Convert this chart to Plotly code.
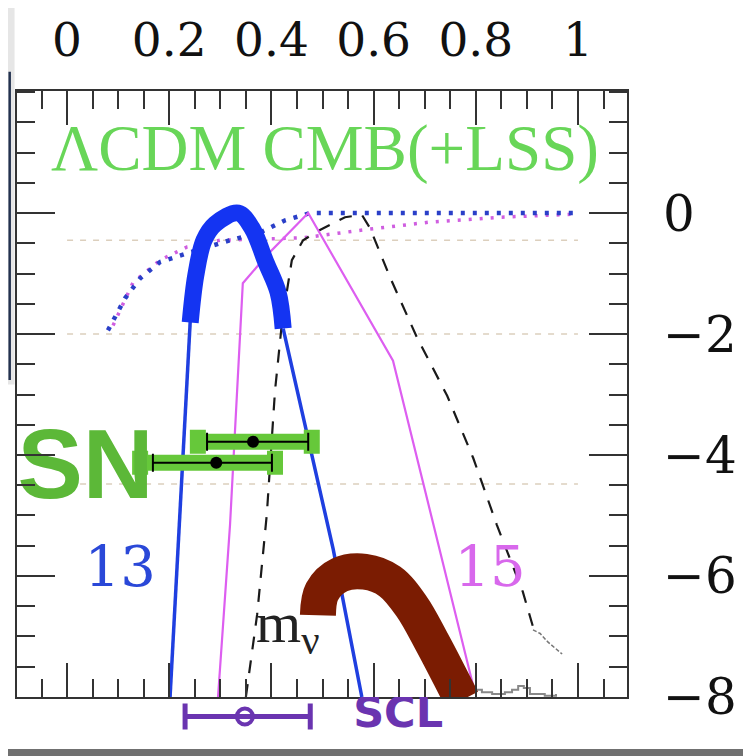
import plotly.graph_objects as go

# ---------------- data ----------------
# x in top-axis units, y in right-axis units
blue_thin_left_x = [0.2016, 0.241]
blue_thin_left_y = [-8.0, -1.80]
blue_thick_x = [0.241, 0.252, 0.268, 0.290, 0.335, 0.362, 0.389, 0.413, 0.423]
blue_thick_y = [-1.81, -1.03, -0.45, -0.18, 0.0, -0.25, -0.81, -1.31, -1.91]
blue_thin_right_x = [0.423, 0.521, 0.577]
blue_thin_right_y = [-1.91, -5.56, -8.0]

blue_dot_x = [0.080, 0.1135, 0.143, 0.182, 0.241, 0.319, 0.378, 0.427, 0.476, 0.994]
blue_dot_y = [-1.94, -1.41, -1.08, -0.81, -0.65, -0.45, -0.32, -0.12, 0.0, 0.0]

mag_dot_x = [0.090, 0.129, 0.182, 0.235, 0.299, 0.462, 0.579, 0.710, 0.847, 0.990]
mag_dot_y = [-1.86, -1.15, -0.78, -0.56, -0.45, -0.41, -0.28, -0.15, -0.07, -0.02]

mag_x = [0.2955, 0.319, 0.344, 0.391, 0.472, 0.638, 0.798]
mag_y = [-8.0, -5.15, -1.16, -0.70, 0.0, -2.44, -7.92]

black_dash_x = [0.350, 0.372, 0.391, 0.407, 0.421, 0.440, 0.462, 0.495, 0.544,
                0.577, 0.593, 0.632, 0.685, 0.744, 0.795, 0.841, 0.892, 0.912]
black_dash_y = [-8.0, -6.64, -4.98, -2.94, -1.78, -0.78, -0.45, -0.28, -0.07,
                -0.03, -0.25, -1.06, -2.06, -3.02, -4.05, -5.15, -6.26, -6.84]
gray_tail_x = [0.912, 0.926, 0.941, 0.969]
gray_tail_y = [-6.89, -6.95, -7.09, -7.29]

gray_noise_x = [0.800, 0.812, 0.832, 0.857, 0.871, 0.883, 0.894, 0.906, 0.935, 0.957]
gray_noise_y = [-7.88, -7.92, -7.95, -7.92, -7.88, -7.82, -7.85, -7.95, -7.98, -7.95]

ref_levels = [-0.45, -2.0, -4.48]
ref_x = [0.0, 1.0]

brown_x = [0.491, 0.499, 0.534, 0.583, 0.632, 0.675, 0.714, 0.750, 0.773]
brown_y = [-6.65, -6.26, -5.98, -5.93, -6.09, -6.51, -7.09, -7.67, -8.05]

sn_x = [0.364, 0.292]
sn_y = [-3.78, -4.13]
sn_err_plus = [0.108, 0.109]
sn_err_minus = [0.090, 0.124]
sn_green_plus = [0.115, 0.115]
sn_green_minus = [0.108, 0.149]

scl_x = [0.348]
scl_y = [0.5]
scl_plus = [0.128]
scl_minus = [0.117]

x_ticks = [0, 0.2, 0.4, 0.6, 0.8, 1]
x_ticktext = ["0", "0.2", "0.4", "0.6", "0.8", "1"]
y_ticks = [-8, -6, -4, -2, 0]

SERIF = "Liberation Serif"
WSERIF = "DejaVu Serif"

fig = go.Figure()

# faint reference lines
for lv in ref_levels:
    fig.add_trace(go.Scatter(x=ref_x, y=[lv, lv], mode="lines",
                             line=dict(color="#dccfbd", width=1.5, dash="6px,7px"),
                             hoverinfo="skip"))

fig.add_trace(go.Scatter(x=mag_dot_x, y=mag_dot_y, mode="lines",
                         line=dict(color="#cf5ee0", width=3.5, dash="3px,8px")))
fig.add_trace(go.Scatter(x=blue_dot_x, y=blue_dot_y, mode="lines",
                         line=dict(color="#2a3fc8", width=4.5, dash="4px,8px")))
fig.add_trace(go.Scatter(x=black_dash_x, y=black_dash_y, mode="lines",
                         line=dict(color="#1a1a1a", width=2.2, dash="13px,11px")))
fig.add_trace(go.Scatter(x=gray_tail_x, y=gray_tail_y, mode="lines",
                         line=dict(color="#777777", width=1.5, dash="4px,2px")))
fig.add_trace(go.Scatter(x=gray_noise_x, y=gray_noise_y, mode="lines",
                         line=dict(color="#888888", width=2, shape="hv")))
fig.add_trace(go.Scatter(x=mag_x, y=mag_y, mode="lines",
                         line=dict(color="#dd5ef0", width=2.2)))
fig.add_trace(go.Scatter(x=blue_thin_left_x, y=blue_thin_left_y, mode="lines",
                         line=dict(color="#1f3fe0", width=3.5)))
fig.add_trace(go.Scatter(x=blue_thin_right_x, y=blue_thin_right_y, mode="lines",
                         line=dict(color="#1f3fe0", width=3.5)))
fig.add_trace(go.Scatter(x=blue_thick_x, y=blue_thick_y, mode="lines",
                         line=dict(color="#1434f2", width=17, shape="spline")))

# labels inside plot (as text traces so the brown arc can cover them)
fig.add_trace(go.Scatter(x=[0.104], y=[-5.93], mode="text", text=["13"],
                         textfont=dict(family=WSERIF, size=56, color="#2a48d8")))
fig.add_trace(go.Scatter(x=[0.828], y=[-5.93], mode="text", text=["15"],
                         textfont=dict(family=WSERIF, size=56, color="#d868ec")))
fig.add_trace(go.Scatter(x=[0.432], y=[-6.85], mode="text", text=["m<sub>ν</sub>"],
                         textfont=dict(family=SERIF, size=58, color="#222222")))

# SN
fig.add_trace(go.Scatter(x=sn_x, y=sn_y, mode="lines",
                         line=dict(width=0, color="rgba(0,0,0,0)"),
                         error_x=dict(type="data", array=sn_green_plus, arrayminus=sn_green_minus,
                                      color="#66c83a", thickness=16, width=12)))
fig.add_trace(go.Scatter(x=sn_x, y=sn_y, mode="markers",
                         marker=dict(color="black", size=12),
                         error_x=dict(type="data", array=sn_err_plus, arrayminus=sn_err_minus,
                                      color="black", thickness=2, width=9)))
fig.add_trace(go.Scatter(x=[0.036], y=[-4.3], mode="text", text=["<b>SN</b>"],
                         textfont=dict(family="Liberation Sans", size=98, color="#5cb838")))

# brown arc
fig.add_trace(go.Scatter(x=brown_x, y=brown_y, mode="lines",
                         line=dict(color="#7b1c02", width=36, shape="spline")))

# SCL panel below the axis
fig.add_trace(go.Scatter(x=scl_x, y=scl_y, mode="markers", xaxis="x2", yaxis="y2",
                         marker=dict(symbol="circle-open", size=16, color="#6a34b0",
                                     line=dict(width=4, color="#6a34b0")),
                         error_x=dict(type="data", array=scl_plus, arrayminus=scl_minus,
                                      color="#6a34b0", thickness=5, width=13)))
fig.add_trace(go.Scatter(x=[0.648], y=[0.5], mode="text", text=["<b>SCL</b>"],
                         xaxis="x2", yaxis="y2",
                         textfont=dict(family="DejaVu Sans", size=43, color="#6a34b0")))

fig.add_annotation(x=0.505, y=1.08, xref="x", yref="y", text="ΛCDM CMB(+LSS)",
                   showarrow=False,
                   font=dict(family=SERIF, size=65, color="#68d658"))

# screenshot edge artefacts
fig.add_shape(type="rect", xref="paper", yref="paper", x0=-0.0148, x1=-0.004, y0=0.545, y1=1.13,
              fillcolor="#e6e6e6", line=dict(width=0), layer="below")
fig.add_shape(type="line", xref="paper", yref="paper", x0=-0.012, x1=-0.012, y0=0.552, y1=1.03,
              line=dict(color="#23324f", width=2.5))
fig.add_shape(type="rect", xref="paper", yref="paper", x0=-0.02, x1=1.21, y0=-0.031, y1=-0.02,
              fillcolor="#707070", line=dict(width=0))

XR = [-0.098, 1.096]
fig.update_layout(
    width=743, height=748,
    margin=dict(l=9, r=124, t=83, b=20),
    paper_bgcolor="white", plot_bgcolor="white",
    showlegend=False,
    xaxis=dict(range=XR, side="top", anchor="y", automargin=False,
               tickvals=x_ticks, ticktext=x_ticktext,
               ticks="inside", ticklen=34, tickwidth=1.5, tickcolor="#333",
               showline=True, linecolor="#333", linewidth=2, mirror="allticks",
               showgrid=False, zeroline=False, ticklabelstandoff=14,
               tickfont=dict(family=WSERIF, size=47, color="#111"),
               minor=dict(ticks="inside", ticklen=18, tickwidth=1.5, tickcolor="#333",
                          dtick=0.05, tick0=0, showgrid=False)),
    yaxis=dict(range=[-8.0, 2.017], domain=[0.0605, 1], side="right", anchor="x",
               automargin=False, tickvals=y_ticks,
               ticks="inside", ticklen=38, tickwidth=1.5, tickcolor="#333",
               showline=True, linecolor="#333", linewidth=2, mirror="allticks",
               showgrid=False, zeroline=False, ticklabelstandoff=24,
               tickfont=dict(family=WSERIF, size=50, color="#111"),
               minor=dict(ticks="inside", ticklen=18, tickwidth=1.5, tickcolor="#333",
                          dtick=0.5, tick0=0, showgrid=False)),
    xaxis2=dict(range=XR, anchor="y2", visible=False, automargin=False),
    yaxis2=dict(range=[0, 1], domain=[0, 0.0605], anchor="x2", visible=False, automargin=False),
)

fig.write_html("out.html")
